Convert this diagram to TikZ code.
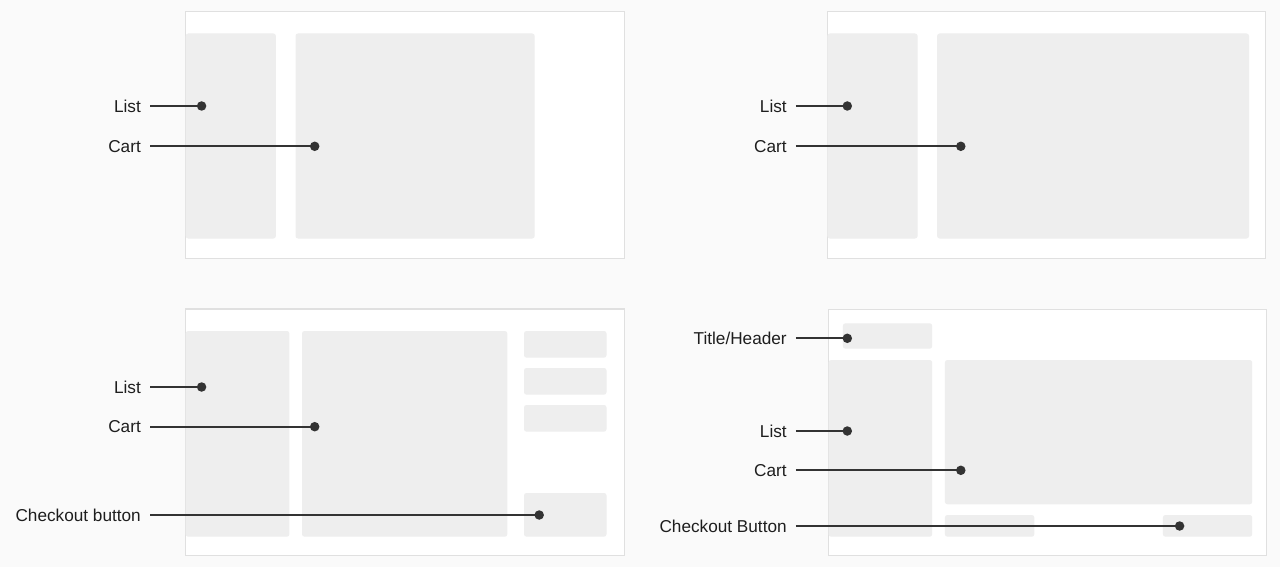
\documentclass[tikz,border=0pt]{standalone}
\usepackage{fontspec}
\setmainfont{Liberation Sans}
\definecolor{bgc}{HTML}{FAFAFA}
\definecolor{framec}{HTML}{E0E0E0}
\definecolor{boxc}{HTML}{EEEEEE}
\definecolor{inkc}{HTML}{333333}
\definecolor{txtc}{HTML}{1E1E1E}
\tikzset{
  frame/.style={draw=framec, line width=1.1pt, fill=white},
  block/.style={fill=boxc, rounded corners=2.5pt},
  lbl/.style={anchor=east, inner xsep=9pt, inner ysep=0pt, text=txtc,
    font=\fontsize{17.2}{20}\selectfont, text height=12.3pt, text depth=0pt},
  dot/.style={circle, fill=inkc, minimum size=9.5pt, inner sep=0pt},
  conn/.style={draw=inkc, line width=1.8pt}
}
\begin{document}
\begin{tikzpicture}[x=1pt,y=-1pt]
\useasboundingbox[fill=bgc] (0,0) rectangle (1280,567);

% ---------- Panel 1 (top-left)
\draw[frame] (185.7,11.7) rectangle (624.5,258.3);
\fill[block] (185.7,33.5) rectangle (275.9,238.5);
\fill[block] (295.5,33.5) rectangle (534.7,238.5);
\node[lbl] (a1) at (150,106) {List};
\node[lbl] (a2) at (150,146.3) {Cart};
\node[dot] (ad1) at (201.6,106) {};
\node[dot] (ad2) at (314.7,146.3) {};
\draw[conn] (a1.east) -- (ad1.center);
\draw[conn] (a2.east) -- (ad2.center);

% ---------- Panel 2 (top-right)
\draw[frame] (827.3,11.7) rectangle (1265.8,258.3);
\fill[block] (827.3,33.5) rectangle (917.6,238.5);
\fill[block] (937.1,33.5) rectangle (1249,238.5);
\node[lbl] (b1) at (795.9,106) {List};
\node[lbl] (b2) at (795.9,146.3) {Cart};
\node[dot] (bd1) at (847.3,106) {};
\node[dot] (bd2) at (960.8,146.3) {};
\draw[conn] (b1.east) -- (bd1.center);
\draw[conn] (b2.east) -- (bd2.center);

% ---------- Panel 3 (bottom-left)
\draw[frame] (185.7,309) rectangle (624.5,555.5);
\fill[block] (185.7,331) rectangle (289.4,536.7);
\fill[block] (302,331) rectangle (507.3,536.7);
\fill[block] (524,331) rectangle (606.5,357.7);
\fill[block] (524,368) rectangle (606.5,394.7);
\fill[block] (524,405) rectangle (606.5,431.7);
\fill[block] (524,493) rectangle (606.5,536.7);
\node[lbl] (c1) at (150,387) {List};
\node[lbl] (c2) at (150,426.7) {Cart};
\node[lbl] (c3) at (150,515) {Checkout button};
\node[dot] (cd1) at (201.6,387) {};
\node[dot] (cd2) at (314.7,426.7) {};
\node[dot] (cd3) at (539.2,515) {};
\draw[conn] (c1.east) -- (cd1.center);
\draw[conn] (c2.east) -- (cd2.center);
\draw[conn] (c3.east) -- (cd3.center);

% ---------- Panel 4 (bottom-right)
\draw[frame] (828.6,309.3) rectangle (1266.5,555.3);
\fill[block] (842.9,323.3) rectangle (932.2,348.7);
\fill[block] (828.6,360) rectangle (932.2,536.7);
\fill[block] (944.9,360) rectangle (1252.2,504.3);
\fill[block] (944.9,515) rectangle (1034.3,536.7);
\fill[block] (1162.9,515) rectangle (1252.2,536.7);
\node[lbl] (e1) at (795.9,338.3) {Title/Header};
\node[lbl] (e2) at (795.9,431) {List};
\node[lbl] (e3) at (795.9,470.3) {Cart};
\node[lbl] (e4) at (795.9,526) {Checkout Button};
\node[dot] (ed1) at (847.3,338.3) {};
\node[dot] (ed2) at (847.3,431) {};
\node[dot] (ed3) at (960.8,470.3) {};
\node[dot] (ed4) at (1179.6,526) {};
\draw[conn] (e1.east) -- (ed1.center);
\draw[conn] (e2.east) -- (ed2.center);
\draw[conn] (e3.east) -- (ed3.center);
\draw[conn] (e4.east) -- (ed4.center);
\end{tikzpicture}
\end{document}
